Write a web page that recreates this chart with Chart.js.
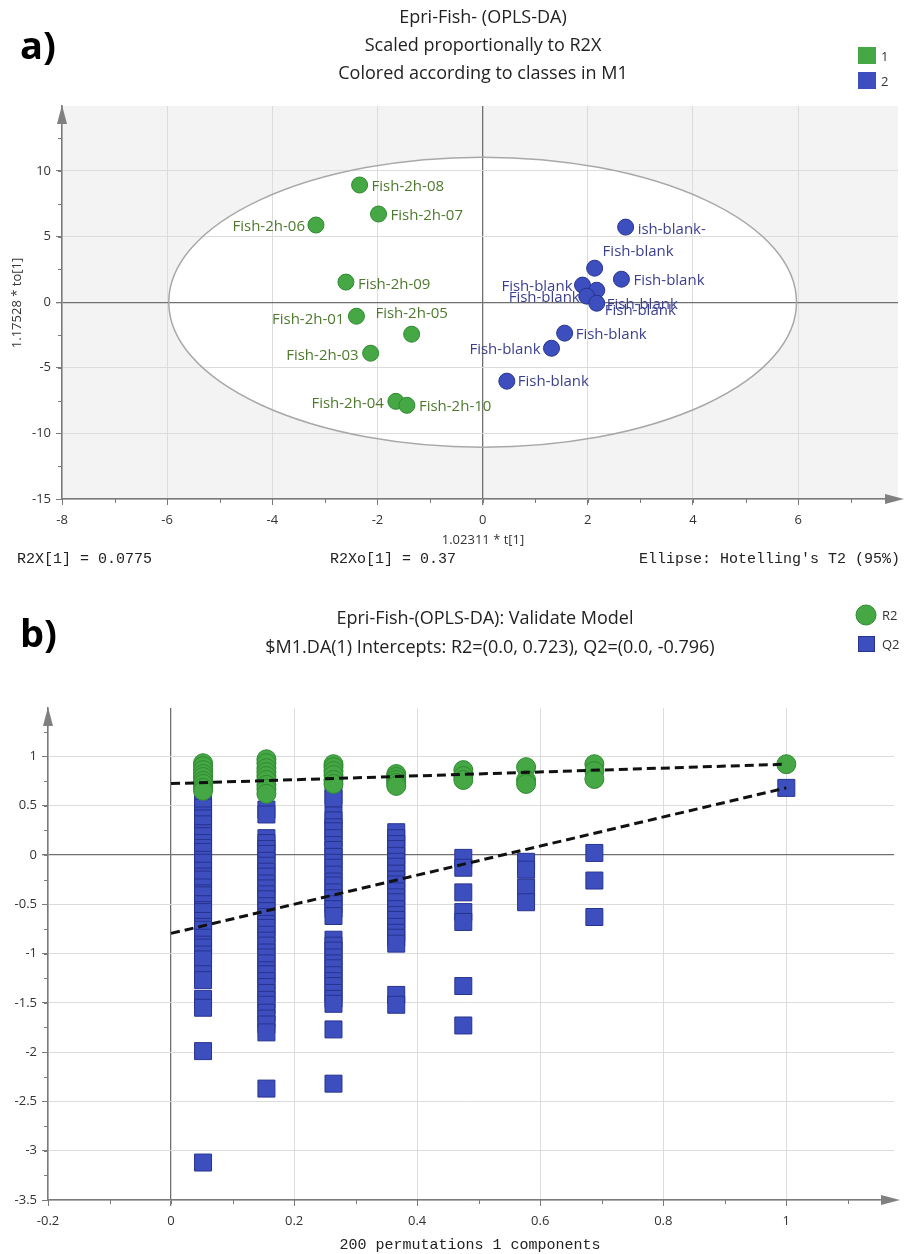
<!DOCTYPE html>
<html>
<head>
<meta charset="utf-8">
<script src="https://cdn.jsdelivr.net/npm/chart.js@4.4.0/dist/chart.umd.min.js"></script>
<style>
  body { margin: 0; background: #fff; width: 907px; height: 1254px; overflow: hidden; }
  canvas { position: absolute; left: 0; }
  #scores { top: 0; }
  #perm { top: 585px; }
</style>
</head>
<body>
<canvas id="scores" width="907" height="585"></canvas>
<canvas id="perm" width="907" height="669"></canvas>
<script>
// ---------- a) OPLS-DA score plot ----------
const fishLabels = ['Fish-2h-08', 'Fish-2h-07', 'Fish-2h-06', 'Fish-2h-09', 'Fish-2h-01',
                    'Fish-2h-05', 'Fish-2h-03', 'Fish-2h-04', 'Fish-2h-10'];
const fishT  = [-2.34, -1.98, -3.17, -2.60, -2.40, -1.35, -2.13, -1.65, -1.44];
const fishTo = [ 8.93,  6.72,  5.88,  1.53, -1.07, -2.44, -3.89, -7.56, -7.86];

const blankLabels = ['ish-blank-', 'Fish-blank', 'Fish-blank', 'Fish-blank', 'Fish-blank',
                     'Fish-blank', 'Fish-blank', 'Fish-blank', 'Fish-blank', 'Fish-blank'];
const blankT  = [2.72, 2.13, 2.64, 1.90, 2.17, 1.98, 2.17, 1.56, 1.31, 0.46];
const blankTo = [5.72, 2.59, 1.75, 1.30, 0.91, 0.46, -0.08, -2.36, -3.51, -6.02];

const classNames = ['1', '2'];
const ellipseT = 5.97;   // Hotelling's T2 (95%) semi-axes
const ellipseTo = 11.05;

// ---------- b) permutation test ----------
const permCorr = [0.052, 0.155, 0.264, 0.366, 0.475, 0.577, 0.688];
const r2Perm = [
  [0.93, 0.90, 0.86, 0.82, 0.79, 0.75, 0.72, 0.68, 0.65],
  [0.97, 0.93, 0.88, 0.84, 0.80, 0.76, 0.71, 0.67, 0.62],
  [0.92, 0.89, 0.85, 0.81, 0.76, 0.72],
  [0.82, 0.79, 0.76, 0.73, 0.70],
  [0.86, 0.80, 0.76],
  [0.89, 0.76, 0.72],
  [0.92, 0.85, 0.77]
];
const q2Perm = [
  [0.52, 0.48, 0.40, 0.37, 0.31, 0.22, 0.19, 0.12, 0.07, 0.03, -0.05, -0.08, -0.16, -0.22, -0.25,
   -0.33, -0.39, -0.41, -0.50, -0.56, -0.58, -0.67, -0.73, -0.76, -0.84, -0.91, -0.94, -1.01, -1.06,
   -1.21, -1.27, -1.46, -1.55, -1.99, -3.12],
  [0.46, 0.41, 0.17, 0.12, 0.06, 0.01, -0.06, -0.11, -0.17, -0.22, -0.29, -0.34, -0.40, -0.45,
   -0.52, -0.57, -0.63, -0.70, -0.74, -0.81, -0.87, -0.92, -0.99, -1.04, -1.10, -1.17, -1.21,
   -1.28, -1.34, -1.40, -1.47, -1.52, -1.60, -1.66, -1.72, -1.80, -2.37],
  [0.60, 0.57, 0.40, 0.35, 0.28, 0.24, 0.17, 0.10, 0.05, -0.02, -0.08, -0.13, -0.20, -0.27, -0.31,
   -0.38, -0.44, -0.50, -0.55, -0.62, -0.86, -0.92, -0.97, -1.04, -1.10, -1.15, -1.22, -1.28,
   -1.33, -1.40, -1.46, -1.51, -1.77, -2.32],
  [0.23, 0.17, 0.11, 0.06, -0.01, -0.07, -0.12, -0.19, -0.25, -0.30, -0.37, -0.43, -0.48, -0.55,
   -0.61, -0.66, -0.73, -0.79, -0.84, -0.90, -1.42, -1.52],
  [-0.03, -0.13, -0.38, -0.58, -0.68, -1.33, -1.73],
  [-0.07, -0.15, -0.33, -0.48],
  [0.02, -0.26, -0.63]
];
const origCorr = 1.0;
const r2Orig = 0.92;
const q2Orig = 0.68;
const r2Intercept = 0.723;
const q2Intercept = -0.796;

// ---------- look ----------
const SANS = '"Open Sans", sans-serif';
const MONO = '"Liberation Mono", monospace';
const GREEN = '#45a845', GREEN_EDGE = '#2f8a30';
const BLUE = '#3d4fbf', BLUE_EDGE = '#27338f';
const AXIS = '#7a7a7a';

function text(ctx, s, x, y, font, color, align) {
  ctx.save();
  ctx.font = font;
  ctx.fillStyle = color;
  ctx.textAlign = align || 'left';
  ctx.textBaseline = 'middle';
  ctx.fillText(s, x, y);
  ctx.restore();
}

function minorTicks(chart, xStep, yStep) {
  const { ctx, chartArea: a, scales: { x, y } } = chart;
  ctx.save();
  ctx.strokeStyle = AXIS;
  ctx.lineWidth = 1;
  ctx.beginPath();
  for (let v = x.min; v <= x.max + 1e-9; v += xStep) {
    const px = Math.round(x.getPixelForValue(v)) + 0.5;
    ctx.moveTo(px, a.bottom); ctx.lineTo(px, a.bottom + 4);
  }
  for (let v = y.min; v <= y.max + 1e-9; v += yStep) {
    const py = Math.round(y.getPixelForValue(v)) + 0.5;
    ctx.moveTo(a.left, py); ctx.lineTo(a.left - 4, py);
  }
  ctx.stroke();
  ctx.restore();
}

function arrows(chart) {
  const { ctx, chartArea: a } = chart;
  ctx.save();
  ctx.fillStyle = '#808080';
  ctx.beginPath();
  ctx.moveTo(a.left, a.top - 1); ctx.lineTo(a.left - 5, a.top + 18); ctx.lineTo(a.left + 5, a.top + 18);
  ctx.fill();
  ctx.beginPath();
  ctx.moveTo(a.right + 6, a.bottom); ctx.lineTo(a.right - 13, a.bottom - 5); ctx.lineTo(a.right - 13, a.bottom + 5);
  ctx.fill();
  ctx.restore();
}

function linScale(min, max, step, fixed, isX, fmt) {
  return {
    type: 'linear', min: min, max: max,
    border: { color: AXIS, width: 1.5 },
    grid: {
      color: c => (c.tick && Math.abs(c.tick.value) < 1e-9) ? '#707070' : '#dcdcdc',
      lineWidth: c => (c.tick && Math.abs(c.tick.value) < 1e-9) ? 1.3 : 1,
      tickColor: AXIS, tickLength: 6
    },
    ticks: {
      stepSize: step, includeBounds: false, autoSkip: false, maxRotation: 0,
      padding: isX ? 7 : 5, color: '#333', font: { family: SANS, size: 13 },
      callback: fmt || (v => String(v))
    },
    afterFit: s => { if (isX) s.height = fixed; else s.width = fixed; }
  };
}

// ---------- chart a ----------
const fishPlace = [[12, 2, 'left'], [12, 2, 'left'], [-11, 2, 'right'], [12, 3, 'left'], [-12, 4, 'right'],
                   [0, -20, 'center'], [-12, 3, 'right'], [-12, 2, 'right'], [12, 1, 'left']];
const blankPlace = [[12, 3, 'left'], [8, -16, 'left'], [12, 2, 'left'], [-10, 2, 'right'], [10, 15, 'left'],
                    [-7, 2, 'right'], [8, 8, 'left'], [11, 2, 'left'], [-11, 2, 'right'], [11, 1, 'left']];

const scoreDeco = {
  id: 'scoreDeco',
  beforeDraw(chart) {
    const { ctx, chartArea: a, scales: { x, y } } = chart;
    ctx.save();
    ctx.fillStyle = '#f3f3f3';
    ctx.fillRect(a.left, a.top, a.right - a.left, a.bottom - a.top);
    const cx = x.getPixelForValue(0), cy = y.getPixelForValue(0);
    const rx = x.getPixelForValue(ellipseT) - cx, ry = cy - y.getPixelForValue(ellipseTo);
    ctx.beginPath();
    ctx.ellipse(cx, cy, rx, ry, 0, 0, Math.PI * 2);
    ctx.fillStyle = '#ffffff';
    ctx.fill();
    ctx.restore();
  },
  beforeDatasetsDraw(chart) {
    const { ctx, scales: { x, y } } = chart;
    const cx = x.getPixelForValue(0), cy = y.getPixelForValue(0);
    const rx = x.getPixelForValue(ellipseT) - cx, ry = cy - y.getPixelForValue(ellipseTo);
    ctx.save();
    ctx.beginPath();
    ctx.ellipse(cx, cy, rx, ry, 0, 0, Math.PI * 2);
    ctx.strokeStyle = '#a8a8a8';
    ctx.lineWidth = 1.5;
    ctx.stroke();
    ctx.restore();
  },
  afterDatasetsDraw(chart) {
    const { ctx } = chart;
    const sets = [[0, fishLabels, fishPlace, '#4d7a2c'], [1, blankLabels, blankPlace, '#3b3f8f']];
    sets.forEach(([di, labels, place, col]) => {
      chart.getDatasetMeta(di).data.forEach((pt, i) => {
        const p = place[i];
        text(ctx, labels[i], pt.x + p[0], pt.y + p[1], '15px ' + SANS, col, p[2]);
      });
    });
  },
  afterDraw(chart) {
    const { ctx } = chart;
    minorTicks(chart, 1, 2.5);
    arrows(chart);
    text(ctx, 'a)', 20, 48, 'bold 38px ' + SANS, '#000');
    text(ctx, 'Epri-Fish- (OPLS-DA)', 483, 18, '18px ' + SANS, '#222', 'center');
    text(ctx, 'Scaled proportionally to R2X', 483, 46, '18px ' + SANS, '#222', 'center');
    text(ctx, 'Colored according to classes in M1', 483, 74, '18px ' + SANS, '#222', 'center');
    // class legend
    ctx.save();
    ctx.fillStyle = GREEN; ctx.fillRect(858, 47, 18, 17);
    ctx.fillStyle = BLUE; ctx.fillRect(858, 72, 18, 17);
    ctx.restore();
    text(ctx, classNames[0], 881, 57, '13px ' + SANS, '#333');
    text(ctx, classNames[1], 881, 82, '13px ' + SANS, '#333');
    // axis titles and footer
    text(ctx, '1.02311 * t[1]', 483, 540, '13px ' + SANS, '#333', 'center');
    ctx.save();
    ctx.translate(17, 303); ctx.rotate(-Math.PI / 2);
    text(ctx, '1.17528 * to[1]', 0, 0, '13px ' + SANS, '#333', 'center');
    ctx.restore();
    text(ctx, 'R2X[1] = 0.0775', 17, 559, '15px ' + MONO, '#222');
    text(ctx, 'R2Xo[1] = 0.37', 330, 559, '15px ' + MONO, '#222');
    text(ctx, "Ellipse: Hotelling's T2 (95%)", 900, 559, '15px ' + MONO, '#222', 'right');
  }
};

new Chart(document.getElementById('scores'), {
  type: 'scatter',
  data: {
    datasets: [
      { label: classNames[0], data: fishT.map((t, i) => ({ x: t, y: fishTo[i] })),
        backgroundColor: GREEN, borderColor: GREEN_EDGE, borderWidth: 1, pointRadius: 8, pointHoverRadius: 8 },
      { label: classNames[1], data: blankT.map((t, i) => ({ x: t, y: blankTo[i] })),
        backgroundColor: BLUE, borderColor: BLUE_EDGE, borderWidth: 1, pointRadius: 8, pointHoverRadius: 8 }
    ]
  },
  options: {
    responsive: false, animation: false, devicePixelRatio: 1,
    layout: { padding: { top: 106, right: 7, left: 0, bottom: 0 } },
    plugins: { legend: { display: false }, tooltip: { enabled: false } },
    scales: {
      x: linScale(-8, 7.9, 2, 86, true),
      y: linScale(-15, 14.95, 5, 62, false)
    }
  },
  plugins: [scoreDeco]
});

// ---------- chart b ----------
function colPoints(cols) {
  const out = [];
  cols.forEach((vals, c) => vals.forEach(v => out.push({ x: permCorr[c], y: v })));
  return out;
}

const permDeco = {
  id: 'permDeco',
  afterDraw(chart) {
    const { ctx } = chart;
    minorTicks(chart, 0.1, 0.25);
    arrows(chart);
    text(ctx, 'b)', 20, 51, 'bold 38px ' + SANS, '#000');
    text(ctx, 'Epri-Fish-(OPLS-DA): Validate Model', 485, 34, '18px ' + SANS, '#222', 'center');
    text(ctx, '$M1.DA(1) Intercepts: R2=(0.0, 0.723), Q2=(0.0, -0.796)', 490, 63, '18px ' + SANS, '#222', 'center');
    ctx.save();
    ctx.beginPath(); ctx.arc(866, 30, 10, 0, Math.PI * 2);
    ctx.fillStyle = GREEN; ctx.fill(); ctx.strokeStyle = GREEN_EDGE; ctx.stroke();
    ctx.fillStyle = BLUE; ctx.fillRect(858, 51, 17, 16);
    ctx.strokeStyle = BLUE_EDGE; ctx.strokeRect(858.5, 51.5, 16, 15);
    ctx.restore();
    text(ctx, 'R2', 882, 31, '13px ' + SANS, '#333');
    text(ctx, 'Q2', 882, 60, '13px ' + SANS, '#333');
    text(ctx, '200 permutations 1 components', 470, 660, '15px ' + MONO, '#222', 'center');
  }
};

const fmt2 = v => String(Math.round(v * 100) / 100);

new Chart(document.getElementById('perm'), {
  type: 'scatter',
  data: {
    datasets: [
      { type: 'line', label: 'R2 fit', data: [{ x: 0, y: r2Intercept }, { x: origCorr, y: r2Orig }],
        borderColor: '#111', borderWidth: 3, borderDash: [9, 5], pointRadius: 0, fill: false },
      { type: 'line', label: 'Q2 fit', data: [{ x: 0, y: q2Intercept }, { x: origCorr, y: q2Orig }],
        borderColor: '#111', borderWidth: 3, borderDash: [9, 5], pointRadius: 0, fill: false },
      { label: 'R2', data: colPoints(r2Perm).concat([{ x: origCorr, y: r2Orig }]),
        backgroundColor: GREEN, borderColor: GREEN_EDGE, borderWidth: 1, pointRadius: 9.5, pointHoverRadius: 9.5 },
      { label: 'Q2', data: colPoints(q2Perm).concat([{ x: origCorr, y: q2Orig }]), pointStyle: 'rect',
        backgroundColor: BLUE, borderColor: BLUE_EDGE, borderWidth: 1, pointRadius: 12, pointHoverRadius: 12 }
    ]
  },
  options: {
    responsive: false, animation: false, devicePixelRatio: 1,
    layout: { padding: { top: 123, right: 4, left: 0, bottom: 0 } },
    plugins: { legend: { display: false }, tooltip: { enabled: false } },
    scales: {
      x: linScale(-0.2, 1.175, 0.2, 54, true, fmt2),
      y: linScale(-3.5, 1.49, 0.5, 48, false, fmt2)
    }
  },
  plugins: [permDeco]
});
</script>
</body>
</html>
